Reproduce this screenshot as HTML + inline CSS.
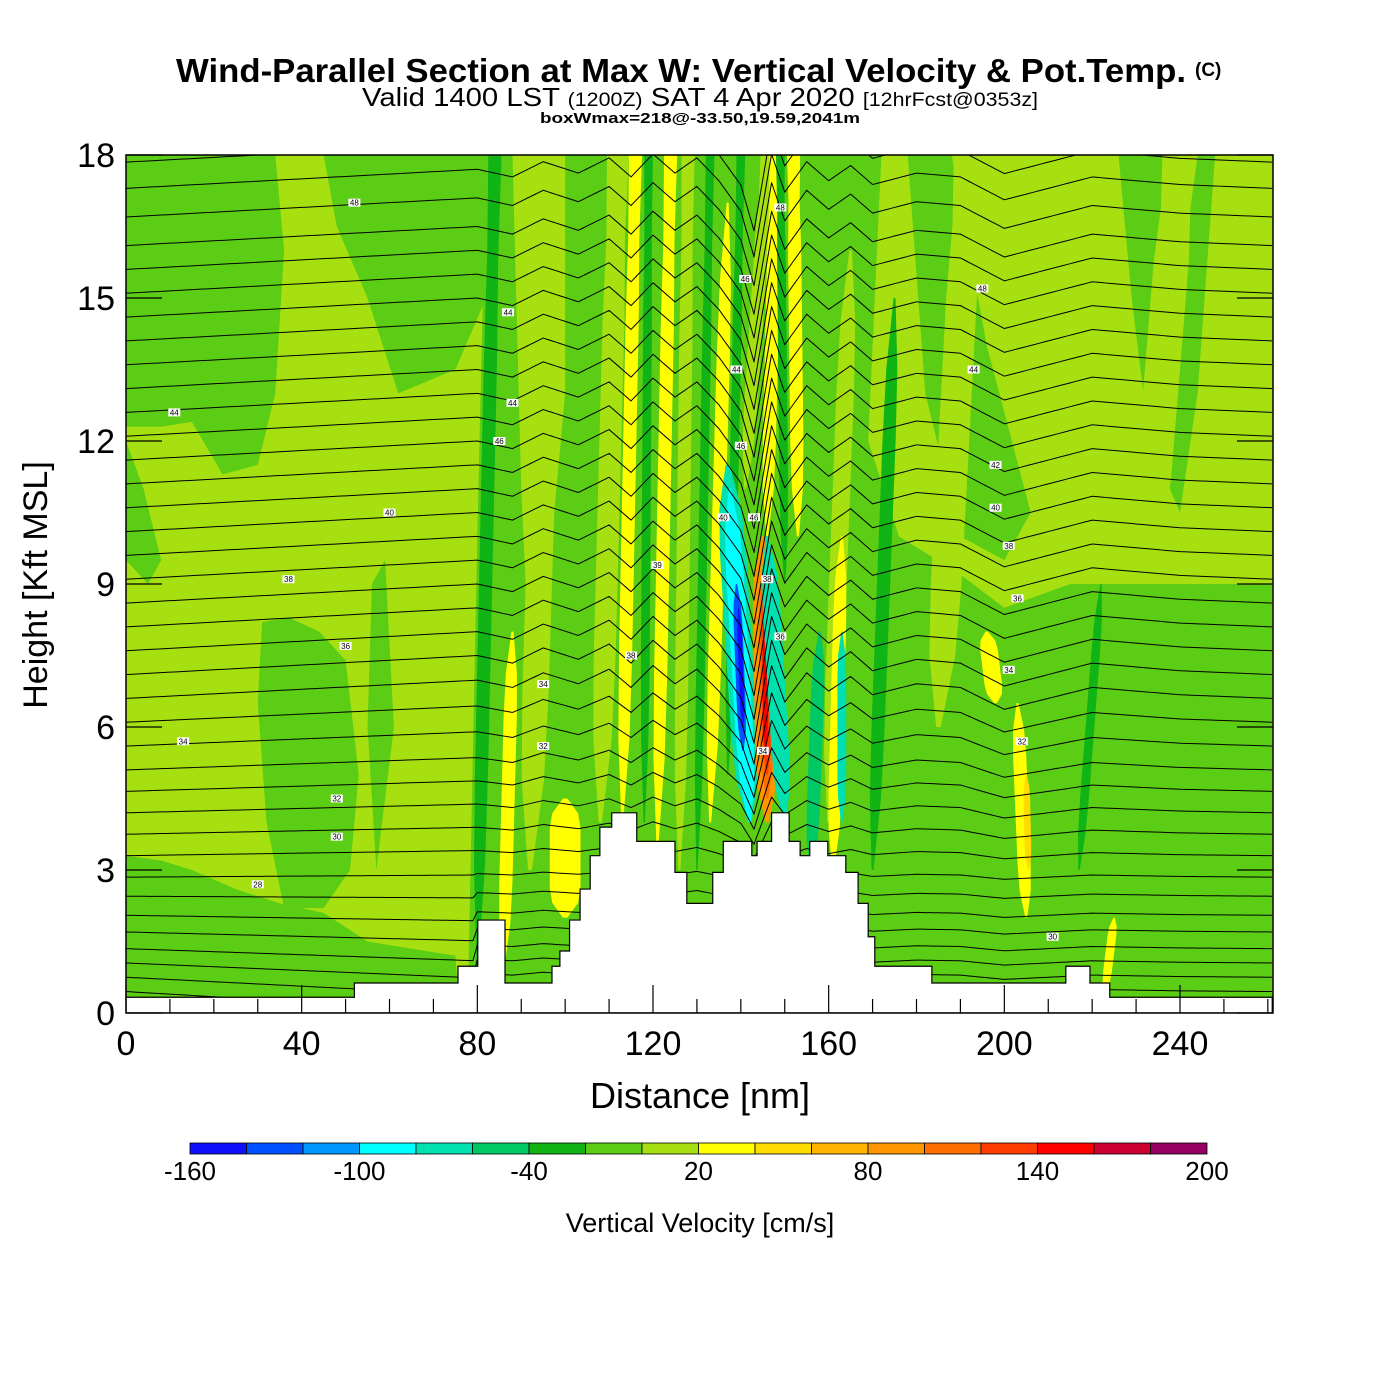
<!DOCTYPE html>
<html><head><meta charset="utf-8"><style>
body{margin:0;background:#fff;width:1400px;height:1400px;overflow:hidden}
svg{display:block;font-family:"Liberation Sans",Arial,sans-serif}
</style></head><body>
<svg id="c" width="1400" height="1400" viewBox="0 0 1400 1400">
<text x="176" y="82" textLength="1010" lengthAdjust="spacingAndGlyphs" font-size="33" font-weight="bold">Wind-Parallel Section at Max W: Vertical Velocity &amp; Pot.Temp.</text>
<text x="1195" y="76" font-size="19" font-weight="bold">(C)</text>
<text x="362" y="106" textLength="676" lengthAdjust="spacingAndGlyphs" font-size="26">Valid 1400 LST <tspan font-size="19">(1200Z)</tspan> SAT 4 Apr 2020 <tspan font-size="19">[12hrFcst@0353z]</tspan></text>
<text x="540" y="123" textLength="320" lengthAdjust="spacingAndGlyphs" font-size="15" font-weight="bold">boxWmax=218@-33.50,19.59,2041m</text>
<defs><clipPath id="pc"><rect x="126" y="155" width="1147" height="858"/></clipPath></defs>
<g id="field" clip-path="url(#pc)"></g>
<g id="axes"></g>
</svg>
<script>
// ---- data ----
const colorLevels=[-160,-140,-120,-100,-80,-60,-40,-20,0,20,40,60,80,100,120,140,160,180,200];
const levelColors=["#1010ff","#0050ff","#0098ff","#00ffff","#00e0b0","#00c864","#10b414","#5acd14","#a6e010","#ffff00","#ffdc00","#ffb400","#ff9600","#ff6e00","#ff3c00","#ff0000","#cd0032","#960064"];
const colorbarLabels=[-160,-100,-40,20,80,140,200];
const xTicks=[0,40,80,120,160,200,240];
const yTicks=[0,3,6,9,12,15,18];
const regionLevel=[7,7,7,7,7,7,7,7,8,7];
const regionPts=[
 [[0,18],[34,18],[36,16],[34,13],[30,11.5],[22,11.3],[15,12.4],[8,12.3],[0,12.3]],
 [[45,18],[86,18],[82,15],[75,13.5],[62,13],[55,15],[48,16.5]],
 [[31,8.2],[37,8.3],[44,8],[50,7.4],[53,5],[51,3],[45,2.2],[36,2.2],[32,4],[30,6.5]],
 [[0,3.3],[8,3.2],[15,3],[25,2.6],[35,2.3],[45,2.1],[55,1.5],[75,1.2],[76,0],[0,0]],
 [[78,1],[80,10],[82,18],[172,18],[169,12],[176,10],[190,9.2],[200,8.5],[215,9],[240,9],[261,9],[261,0],[78,0]],
 [[0,12],[4,11],[8,9.5],[5,9],[0,9.5]],
 [[56,9],[59,9.5],[61,6],[57,3],[55,6]],
 [[178,18],[188,18],[196,14],[206,10.5],[200,9.5],[190,10],[182,13]],
 [[88,18],[100,18],[100,13],[96,9],[92,7],[90,11]],
 [[226,18],[248,18],[244,13],[240,10.5],[233,12],[229,15]]
];
const stripeLevel=[9,8,9,8,9,6,9,8,6,9,6,8,9,6,9,5,8,9,4,6,8,9,10,9,6,8,6,9,4,3,1,0,12,13,14,15,4];
const stripeXb=[86,92,100,108,113,118,121,126,130,133,137,141,146,150,153,156,160,161,163,170,185,205,205.5,198,217,232,80,223,142,142,140.5,140.5,146,146,146,145.6,150];
const stripeXt=[88,97,100,112,116,119,124,128,133,137,140,146,148,149,152,158,165,163,163,175,192,203,205,196,222,240,84,225,137,137.5,139,139.5,145,145.5,145.5,145.6,146];
const stripeW=[3,6,7,5,3,2,3,3,2,3,2,3,3,2,3,3,4,3,2,3,7,3,1.5,4,2,8,3,2,6,4,2,1,5,3,2,1.2,4];
const stripeLo=[1,3,2,4,4,4,3.5,3,3,4,5,11,10,9,10,3,4,3,4,3,6,2,3,6.5,3,9,1,0.5,4,4,5.5,6,4,4.5,5,5.5,4];
const stripeHi=[8,18,4.5,18,18,18,18,18,18,17,18,18,18,18,18,8,16,10,8,15,18,6.5,5,8,9,18,18,2,11.5,11,9,8.5,10,9.5,9,8.5,10];
const terrX=[0,52,75.6,80.1,86.3,88.6,97,98.8,101,103.4,105.7,107.9,110.6,116.3,125,127.7,133.6,136,142.5,143.7,147,151,153.5,155.7,159.8,163.9,166.7,169,170.5,183.5,214,219.5,224,261];
const terrH=[0.33,0.63,0.98,1.95,0.63,0.63,0.98,1.3,1.95,2.6,3.3,3.9,4.2,3.6,2.95,2.3,2.95,3.6,3.3,3.6,4.2,3.6,3.3,3.6,3.3,2.95,2.3,1.6,0.98,0.63,0.98,0.63,0.33,0.33];
const thetaBase=[0.45,0.75,1.05,1.35,1.7,2.05,2.45,2.85,3.3,3.75,4.2,4.65,5.1,5.6,6.1,6.6,7.1,7.6,8.1,8.6,9.1,9.6,10.1,10.6,11.1,11.6,12.1,12.6,13.1,13.6,14.1,14.6,15.1,15.6,16.1,16.7,17.3,17.85];
const dispX=[0,40,80,88,95,103,110,115,120,125,130,135,140,143,147,150,155,160,165,170,180,190,200,210,220,240,261];
const dispY=[0,0.25,0.5,0.3,0.7,0.4,0.8,0.3,0.9,0.4,0.8,0.2,-0.6,-1.8,0.9,-0.1,0.7,0.2,0.6,0.1,0.4,0.3,-0.3,0.0,0.3,0.1,0];
const thetaLabels=[["48",52,17],["44",11,12.6],["40",60,10.5],["38",37,9.1],["36",50,7.7],["34",13,5.7],["32",48,4.5],["30",48,3.7],["28",30,2.7],["44",87,14.7],["44",88,12.8],["46",85,12],["39",121,9.4],["38",115,7.5],["34",95,6.9],["32",95,5.6],["48",149,16.9],["46",141,15.4],["44",139,13.5],["46",140,11.9],["40",136,10.4],["46",143,10.4],["38",146,9.1],["36",149,7.9],["34",145,5.5],["48",195,15.2],["44",193,13.5],["42",198,11.5],["40",198,10.6],["38",201,9.8],["36",203,8.7],["34",201,7.2],["32",204,5.7],["30",211,1.6]];
// ---- helpers ----
const NS="http://www.w3.org/2000/svg";
const X=v=>126+v*(1180-126)/240, Y=v=>1013-v*(1013-155)/18;
const field=document.getElementById('field'), axes=document.getElementById('axes');
function mk(t,a,p){const e=document.createElementNS(NS,t);for(const k in a)e.setAttribute(k,a[k]);(p||field).appendChild(e);return e;}
function interp(xs,ys,x){if(x<=xs[0])return ys[0];for(let i=1;i<xs.length;i++){if(x<=xs[i]){const t=(x-xs[i-1])/(xs[i]-xs[i-1]);return ys[i-1]+t*(ys[i]-ys[i-1]);}}return ys[ys.length-1];}
let e=mk('rect',{x:126,y:155,width:1147,height:858,fill:levelColors[8]});


regionPts.forEach((pts,i)=>{
 const p=mk('polygon',{points:pts.map(q=>X(q[0])+','+Y(q[1])).join(' '),fill:levelColors[regionLevel[i]]});
 
 
});
stripeLevel.forEach((lv,i)=>{
 const lo=stripeLo[i],hi=stripeHi[i],w=stripeW[i]/2,n=8,L=[],R=[];
 for(let k=0;k<=n;k++){const t=k/n,h=lo+(hi-lo)*t,c=stripeXb[i]+(stripeXt[i]-stripeXb[i])*t;
  const f=Math.min(1,Math.sin(Math.PI*t)*2.2+((t===0&&lo<1)||(t===1&&hi>=17.9)?1:0));
  const ww=w*Math.max(0.15,f);L.push([c-ww,h]);R.unshift([c+ww,h]);}
 const p=mk('polygon',{points:L.concat(R).map(q=>X(q[0])+','+Y(q[1])).join(' '),fill:levelColors[lv]});
 
 
});
thetaBase.forEach(b=>{
 const f=Math.max(0.15,Math.min(0.8,(b-2)/6));const pts=[];
 for(let x=0;x<=261;x+=1){let h=b+interp(dispX,dispY,x)*f;if(b<3&&x<80)h-=(x/80)*0.2*(3-b);pts.push(X(x)+','+Y(h));}
 const l=mk('polyline',{points:pts.join(' '),fill:'none',stroke:'#000','stroke-width':1,'stroke-linejoin':'round'});
 
 
});
thetaLabels.forEach(t=>{
 const g=mk('g',{});
 
 
 mk('rect',{x:X(t[1])-6,y:Y(t[2])-4,width:12,height:8,fill:'#fff'},g);
 const tx=mk('text',{x:X(t[1]),y:Y(t[2])+3,'font-size':8,'text-anchor':'middle'},g);tx.textContent=t[0];
});
{const pts=[[X(0),1013]];for(let i=0;i<terrX.length-1;i++){pts.push([X(terrX[i]),Y(terrH[i])],[X(terrX[i+1]),Y(terrH[i])]);}pts.push([X(261),1013]);
 const p=mk('polygon',{points:pts.map(q=>q.join(',')).join(' '),fill:'#fff',stroke:'#000','stroke-width':1.2});
 
 }
e=mk('rect',{x:126,y:155,width:1147,height:858,fill:'none',stroke:'#000','stroke-width':1.5},axes);


for(let v=0;v<=260;v+=10){const maj=xTicks.includes(v);mk('line',{x1:X(v),x2:X(v),y1:1013,y2:1013-(maj?28:14),stroke:'#000','stroke-width':1.2},axes);}
xTicks.forEach(v=>{const t=mk('text',{x:X(v),y:1055,'font-size':34,'text-anchor':'middle'},axes);t.textContent=v;
 
 });
yTicks.forEach(v=>{mk('line',{x1:126,x2:162,y1:Y(v),y2:Y(v),stroke:'#000','stroke-width':1.2},axes);mk('line',{x1:1237,x2:1273,y1:Y(v),y2:Y(v),stroke:'#000','stroke-width':1.2},axes);
 const t=mk('text',{x:115,y:Y(v)+12,'font-size':34,'text-anchor':'end'},axes);t.textContent=v;
 
 });
e=mk('text',{x:700,y:1108,'font-size':36,'text-anchor':'middle'},axes);e.textContent='Distance [nm]';


e=mk('text',{x:0,y:0,'font-size':34,'text-anchor':'middle',transform:'translate(47,585) rotate(-90)'},axes);e.textContent='Height [Kft MSL]';


const cb0=190,cb1=1207,cw=(cb1-cb0)/levelColors.length;
const cbv=v=>cb0+(v-colorLevels[0])/(colorLevels[colorLevels.length-1]-colorLevels[0])*(cb1-cb0);
levelColors.forEach((c,i)=>{const r=mk('rect',{x:cb0+i*cw,y:1143,width:cw,height:11,fill:c,stroke:'#000','stroke-width':0.8},axes);
 
 });
colorbarLabels.forEach(v=>{const t=mk('text',{x:cbv(v),y:1180,'font-size':26,'text-anchor':'middle'},axes);t.textContent=v;
 
 });
e=mk('text',{x:700,y:1232,'font-size':27,'text-anchor':'middle'},axes);e.textContent='Vertical Velocity [cm/s]';


</script>
</body></html>
